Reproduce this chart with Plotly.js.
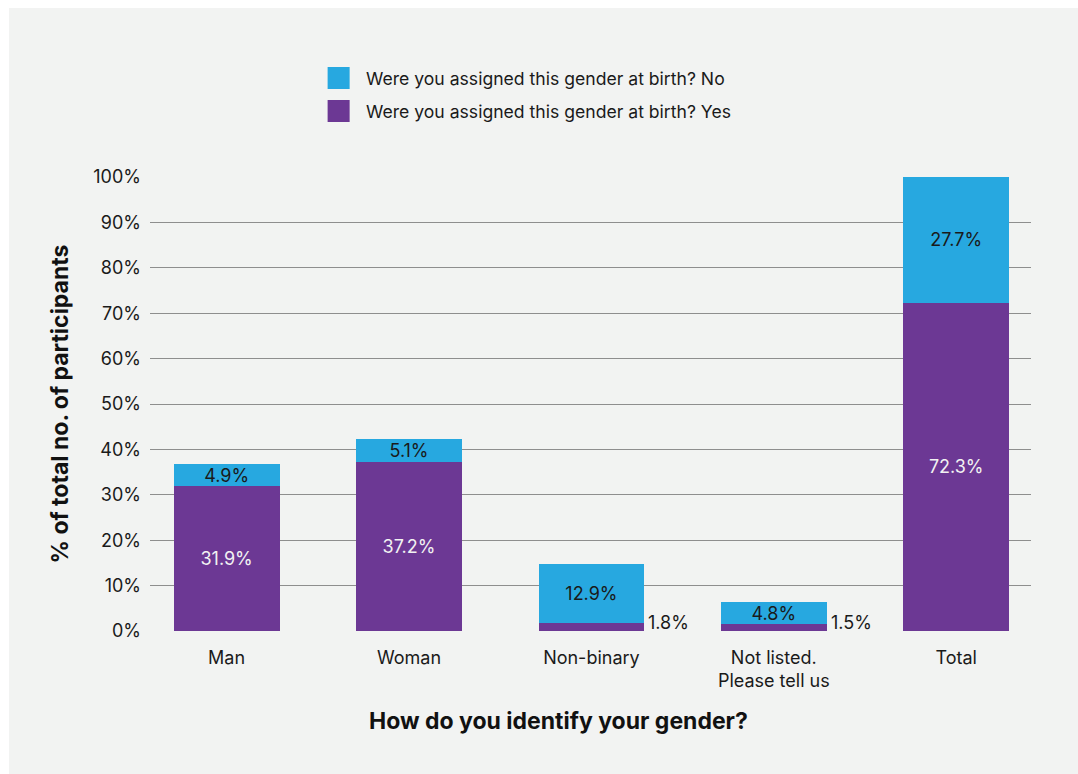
<!DOCTYPE html>
<html>
<head>
<meta charset="utf-8">
<script src="https://cdn.plot.ly/plotly-3.0.1.min.js"></script>
<style>
html,body{margin:0;padding:0;background:#ffffff;}
#chart{position:absolute;left:9px;top:8px;width:1069px;height:766px;}
</style>
</head>
<body>
<div id="chart"></div>
<script>
const categories = ["Man", "Woman", "Non-binary", "Not listed.<br>Please tell us", "Total"];
const yesValues = [31.9, 37.2, 1.8, 1.5, 72.3];
const noValues = [4.9, 5.1, 12.9, 4.8, 27.7];
const yesName = "Were you assigned this gender at birth? Yes";
const noName = "Were you assigned this gender at birth? No";
const yTickVals = [0,10,20,30,40,50,60,70,80,90,100];
const yTickText = yTickVals.map(v => v + "%");

const fmt = v => v.toFixed(1) + "%";
const smallLimit = 3; // segments too thin for an inside label
const yesText = yesValues.map(v => v < smallLimit ? "" : fmt(v));
const noText = noValues.map(fmt);

const FONT = "Inter, 'Noto Sans', sans-serif";
const BLUE = "#27a8e0";
const PURPLE = "#6c3894";

const traces = [
  {
    type: "bar", name: yesName, x: categories, y: yesValues,
    marker: {color: PURPLE}, width: 0.58,
    text: yesText, textposition: "inside", insidetextanchor: "middle",
    textangle: 0, constraintext: "none",
    textfont: {family: FONT, size: 18, color: "#f2f2f2"},
    hoverinfo: "skip", showlegend: false
  },
  {
    type: "bar", name: noName, x: categories, y: noValues,
    marker: {color: BLUE}, width: 0.58,
    text: noText, textposition: "inside", insidetextanchor: "middle",
    textangle: 0, constraintext: "none",
    textfont: {family: FONT, size: 18, color: "#1a1a1a"},
    hoverinfo: "skip", showlegend: false
  }
];

const annotations = [];
categories.forEach((c, i) => {
  if (yesValues[i] < smallLimit) {
    annotations.push({
      x: c, y: 0, xref: "x", yref: "y", text: fmt(yesValues[i]),
      showarrow: false, xanchor: "left", yanchor: "bottom",
      xshift: 55, yshift: -4,
      font: {family: FONT, size: 18, color: "#1a1a1a"}
    });
  }
});
annotations.push({
  x: 0.464, y: -0.198, xref: "paper", yref: "paper",
  text: "<b>How do you identify your gender?</b>", showarrow: false,
  xanchor: "center", yanchor: "middle",
  font: {family: FONT, size: 23, color: "#111111"}
});

// legend (drawn as swatches + labels to match the large square keys)
const legendItems = [
  {name: noName, color: BLUE, y0: 1.1938, y1: 1.2423},
  {name: yesName, color: PURPLE, y0: 1.1211, y1: 1.1696}
];
const shapes = [];
legendItems.forEach(it => {
  shapes.push({type: "rect", xref: "paper", yref: "paper",
    x0: 0.2016, x1: 0.2266, y0: it.y0, y1: it.y1,
    fillcolor: it.color, line: {width: 0}});
  annotations.push({x: 0.2425, y: (it.y0 + it.y1) / 2, xref: "paper", yref: "paper",
    text: it.name, showarrow: false, xanchor: "left", yanchor: "middle",
    font: {family: FONT, size: 17.6, color: "#1a1a1a"}});
});

const layout = {
  width: 1069, height: 766,
  paper_bgcolor: "#f2f3f2", plot_bgcolor: "#f2f3f2",
  margin: {l: 141, r: 47, t: 169, b: 143},
  barmode: "stack",
  font: {family: FONT, size: 18, color: "#1a1a1a"},
  showlegend: false,
  xaxis: {
    type: "category", range: [-0.42, 4.41],
    showgrid: false, zeroline: false, showline: false,
    ticks: "", ticklabelstandoff: 14,
    tickfont: {family: FONT, size: 18, color: "#1a1a1a"}
  },
  yaxis: {
    range: [0, 100], tickvals: yTickVals, ticktext: yTickText,
    showgrid: true, gridcolor: "#8e8e8e", gridwidth: 1,
    zeroline: false, showline: false, ticks: "",
    ticklabelstandoff: 8,
    tickfont: {family: FONT, size: 18, color: "#1a1a1a"},
    title: {text: "<b>% of total no. of participants</b>", standoff: 18,
            font: {family: FONT, size: 23, color: "#111111"}}
  },
  shapes: shapes,
  annotations: annotations
};

Plotly.newPlot("chart", traces, layout, {displayModeBar: false, staticPlot: true});
</script>
</body>
</html>
